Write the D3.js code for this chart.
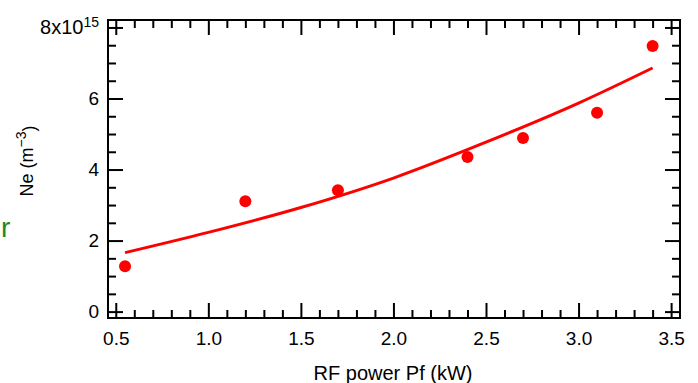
<!DOCTYPE html>
<html>
<head>
<meta charset="utf-8">
<script src="https://cdn.jsdelivr.net/npm/d3@7"></script>
<style>
  body { margin: 0; background: #fff; }
  svg text { font-family: "Liberation Sans", Arial, sans-serif; fill: #000; }
</style>
</head>
<body>
<div id="chart"></div>
<script>
// measured points (RF power in kW, electron density in m^-3)
const powerKW = [0.55, 1.2, 1.7, 2.4, 2.7, 3.1, 3.4];
const density = [1.28e15, 3.11e15, 3.42e15, 4.35e15, 4.89e15, 5.60e15, 7.48e15];

// fit curve
const fitPower = [0.55, 1.0, 1.5, 2.0, 2.5, 3.0, 3.4];
const fitDensity = [1.66e15, 2.23e15, 2.93e15, 3.76e15, 4.77e15, 5.87e15, 6.86e15];

const xMajor = [0.5, 1.0, 1.5, 2.0, 2.5, 3.0, 3.5];
const yMajor = [0, 2e15, 4e15, 6e15, 8e15];

const W = 698, H = 383;
const box = { left: 108, right: 680, top: 20, bottom: 318 };

const svg = d3.select("#chart").append("svg")
  .attr("width", W)
  .attr("height", H);

const x = d3.scaleLinear([0.458, 3.548], [box.left, box.right]);
const y = d3.scaleLinear([-0.18e15, 8.21e15], [box.bottom, box.top]);

// minor ticks: 0.1 kW and 0.5e15 steps
const xMinor = d3.range(5, 36).filter(d => d % 5 !== 0).map(d => d / 10);
const yMinor = d3.range(0, 17).filter(d => d % 4 !== 0).map(d => d * 0.5e15);

function styleAxis(g) {
  g.select(".domain").remove();
  g.selectAll(".tick line").attr("stroke", "#000").attr("stroke-width", 2);
  g.selectAll(".tick text").attr("font-size", 19);
}

// bottom
svg.append("g").attr("transform", `translate(0,${box.bottom})`)
  .call(d3.axisBottom(x).tickValues(xMajor).tickSize(-15).tickPadding(14)
    .tickFormat(d3.format(".1f")))
  .call(styleAxis);
svg.append("g").attr("transform", `translate(0,${box.bottom})`)
  .call(d3.axisBottom(x).tickValues(xMinor).tickSize(-8).tickFormat(""))
  .call(styleAxis);

// top
svg.append("g").attr("transform", `translate(0,${box.top})`)
  .call(d3.axisTop(x).tickValues(xMajor).tickSize(-15).tickFormat(""))
  .call(styleAxis);
svg.append("g").attr("transform", `translate(0,${box.top})`)
  .call(d3.axisTop(x).tickValues(xMinor).tickSize(-8).tickFormat(""))
  .call(styleAxis);

// left
const yLeft = svg.append("g").attr("transform", `translate(${box.left},0)`)
  .call(d3.axisLeft(y).tickValues(yMajor).tickSize(-15).tickPadding(9)
    .tickFormat(d => d / 1e15))
  .call(styleAxis);
svg.append("g").attr("transform", `translate(${box.left},0)`)
  .call(d3.axisLeft(y).tickValues(yMinor).tickSize(-8).tickFormat(""))
  .call(styleAxis);

// top label gets the exponent
yLeft.selectAll(".tick text").filter(d => d === 8e15)
  .text(null)
  .attr("font-size", 20)
  .call(t => {
    t.append("tspan").text("8x10");
    t.append("tspan").attr("dy", "-0.55em").attr("font-size", 14).text("15");
  });

// right
svg.append("g").attr("transform", `translate(${box.right},0)`)
  .call(d3.axisRight(y).tickValues(yMajor).tickSize(-15).tickFormat(""))
  .call(styleAxis);
svg.append("g").attr("transform", `translate(${box.right},0)`)
  .call(d3.axisRight(y).tickValues(yMinor).tickSize(-8).tickFormat(""))
  .call(styleAxis);

// frame
svg.append("rect")
  .attr("x", box.left).attr("y", box.top)
  .attr("width", box.right - box.left).attr("height", box.bottom - box.top)
  .attr("fill", "none").attr("stroke", "#000").attr("stroke-width", 2);

// fit line
const fitData = fitPower.map((p, i) => [p, fitDensity[i]]);
svg.append("path")
  .datum(fitData)
  .attr("fill", "none")
  .attr("stroke", "#ff0000")
  .attr("stroke-width", 3)
  .attr("d", d3.line().x(d => x(d[0])).y(d => y(d[1])).curve(d3.curveMonotoneX));

// measured points
svg.selectAll(".pt")
  .data(powerKW.map((p, i) => [p, density[i]]))
  .join("circle")
  .attr("class", "pt")
  .attr("cx", d => x(d[0]))
  .attr("cy", d => y(d[1]))
  .attr("r", 6)
  .attr("fill", "#ff0000");

// axis titles
svg.append("text")
  .attr("x", 393).attr("y", 380)
  .attr("text-anchor", "middle")
  .attr("font-size", 20)
  .text("RF power Pf (kW)");

const yTitle = svg.append("text")
  .attr("transform", "translate(33,161) rotate(-90)")
  .attr("text-anchor", "middle")
  .attr("font-size", 18);
yTitle.append("tspan").text("Ne (m");
yTitle.append("tspan").attr("dy", "-0.5em").attr("font-size", 14).text("\u22123");
yTitle.append("tspan").attr("dy", "0.5em").text(")");

// stray green letter at the left edge
svg.append("text")
  .attr("x", 1).attr("y", 237)
  .attr("font-size", 28)
  .style("fill", "#1a8a1a")
  .text("r");
</script>
</body>
</html>
